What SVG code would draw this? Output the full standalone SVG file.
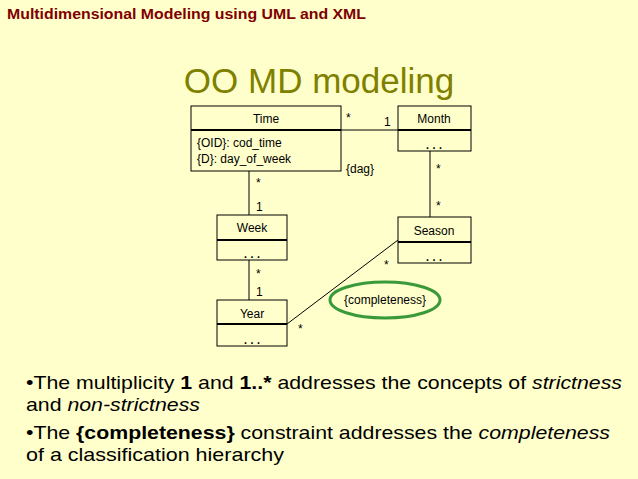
<svg xmlns="http://www.w3.org/2000/svg" width="638" height="479" viewBox="0 0 638 479">
<style>
text{font-family:"Liberation Sans",Arial,sans-serif;fill:#000}
.box{fill:none;stroke:#000;stroke-width:1}
.div{stroke:#000;stroke-width:2}
.lbl{font-size:12px}
.nm{font-size:12px;text-anchor:middle}
.dots{font-size:16px;text-anchor:middle;letter-spacing:2px}
.ln{stroke:#000;stroke-width:1;fill:none}
.b{font-size:19px}
</style>
<rect width="638" height="479" fill="#FFFFCC"/>
<text x="7" y="19" font-size="14" font-weight="bold" textLength="359" lengthAdjust="spacingAndGlyphs" style="fill:#800000">Multidimensional Modeling using UML and XML</text>
<text x="319" y="93" font-size="35" text-anchor="middle" style="fill:#808000">OO MD modeling</text>
<g id="connectors">
<line class="ln" x1="341" y1="130" x2="398" y2="130"/>
<line class="ln" x1="249" y1="171" x2="249" y2="215"/>
<line class="ln" x1="249" y1="260" x2="249" y2="300"/>
<line class="ln" x1="430" y1="151" x2="430" y2="217"/>
<line class="ln" x1="398" y1="240" x2="287" y2="324"/>
<text class="lbl" x="346" y="122">*</text>
<text class="lbl" x="384" y="126">1</text>
<text class="lbl" x="346" y="173">{dag}</text>
<text class="lbl" x="256" y="187">*</text>
<text class="lbl" x="256" y="211">1</text>
<text class="lbl" x="436" y="173">*</text>
<text class="lbl" x="436" y="210">*</text>
<text class="lbl" x="256" y="278">*</text>
<text class="lbl" x="256" y="296">1</text>
<text class="lbl" x="384" y="269">*</text>
<text class="lbl" x="298" y="333">*</text>
</g>
<g id="time">
<rect class="box" x="191" y="106" width="150" height="65"/>
<line class="div" x1="191" y1="130" x2="341" y2="130"/>
<text class="nm" x="266" y="123">Time</text>
<text class="lbl" x="197" y="147">{OID}: cod_time</text>
<text class="lbl" x="197" y="163">{D}: day_of_week</text>
</g>
<g id="month">
<rect class="box" x="398" y="106" width="73" height="45"/>
<line class="div" x1="398" y1="130" x2="471" y2="130"/>
<text class="nm" x="434" y="123">Month</text>
<text class="dots" x="435" y="149">...</text>
</g>
<g id="week">
<rect class="box" x="217" y="215" width="70" height="45"/>
<line class="div" x1="217" y1="240" x2="287" y2="240"/>
<text class="nm" x="252" y="232">Week</text>
<text class="dots" x="253" y="258">...</text>
</g>
<g id="season">
<rect class="box" x="398" y="217" width="73" height="46"/>
<line class="div" x1="398" y1="242" x2="471" y2="242"/>
<text class="nm" x="434" y="235">Season</text>
<text class="dots" x="435" y="261">...</text>
</g>
<g id="year">
<rect class="box" x="217" y="300" width="70" height="46"/>
<line class="div" x1="217" y1="324" x2="287" y2="324"/>
<text class="nm" x="252" y="318">Year</text>
<text class="dots" x="253" y="344">...</text>
</g>
<g id="completeness">
<ellipse cx="385" cy="300" rx="55" ry="18" fill="none" stroke="#3A9A3A" stroke-width="3"/>
<text class="nm" x="385" y="304">{completeness}</text>
</g>
<g id="bullets">
<text class="b" x="26" y="389" textLength="596" lengthAdjust="spacingAndGlyphs">•The multiplicity <tspan font-weight="bold">1</tspan> and <tspan font-weight="bold">1..*</tspan> addresses the concepts of <tspan font-style="italic">strictness</tspan></text>
<text class="b" x="26" y="411" textLength="174" lengthAdjust="spacingAndGlyphs">and <tspan font-style="italic">non-strictness</tspan></text>
<text class="b" x="26" y="439" textLength="584" lengthAdjust="spacingAndGlyphs">•The <tspan font-weight="bold">{completeness}</tspan> constraint addresses the <tspan font-style="italic">completeness</tspan></text>
<text class="b" x="26" y="461" textLength="258" lengthAdjust="spacingAndGlyphs">of a classification hierarchy</text>
</g>
</svg>
